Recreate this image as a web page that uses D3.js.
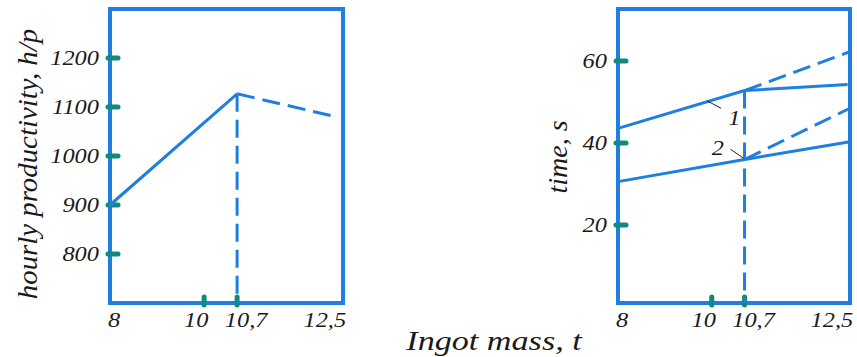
<!DOCTYPE html>
<meta charset="utf-8">
<style>
body { margin: 0; background: #fff; }
text { font-family: "Liberation Serif", "Times New Roman", serif; font-style: italic; fill: #1a1a1a; }
.frame { fill: none; stroke: #1e7fe0; stroke-width: 4px; }
.curve { fill: none; stroke: #1e7fe0; stroke-width: 3px; }
.dash { stroke-dasharray: 18, 8; }
.tick-mark { stroke: #0f8a7c; stroke-width: 5px; stroke-linecap: round; }
.leader { stroke: #222; stroke-width: 1px; }
</style>
<svg width="857" height="357"></svg>
<script src="https://d3js.org/d3.v7.min.js"></script>
<script>

var massLabels = [8, 10, 10.7, 12.5],
    massTicks = [10, 10.7],
    peakMass = 10.7;

var prodTicks = [800, 900, 1000, 1100, 1200],
    prodSolid = [[8, 900], [10.7, 1127]],
    prodDashed = [[10.7, 1127], [12.8, 1080]];

var timeTicks = [20, 40, 60],
    time1Solid = [[8, 43.6], [10.7, 52.8], [12.9, 54.3]],
    time1Dashed = [[10.7, 52.8], [12.95, 62.3]],
    time2Solid = [[8, 30.6], [10.7, 36.0], [12.95, 40.3]],
    time2Dashed = [[10.7, 36.0], [12.95, 48.5]];

var svg = d3.select("svg");
var comma = function(d) { return String(d).replace(".", ","); };
// the scanned lettering is a bit wide, so stretch text horizontally
var wide = function(x, y) { return "translate(" + x + "," + y + ") scale(1.22,1)"; };
var labelShift = {8: 4, 10: -8, 10.7: 9, 12.5: 3};

function panel(left, right, yDomain, ticks, yTitle, yTitleX, yTitleY, yTitleStretch) {
  var x = d3.scaleLinear().domain([8, 12.95]).range([left, right]),
      y = d3.scaleLinear().domain(yDomain).range([303, 9]),
      g = svg.append("g");

  var line = d3.line().x(function(d) { return x(d[0]); }).y(function(d) { return y(d[1]); });

  g.append("rect").attr("class", "frame")
    .attr("x", left).attr("y", 9).attr("width", right - left).attr("height", 294);

  g.selectAll(".ytick").data(ticks).enter().append("line")
    .attr("class", "tick-mark")
    .attr("x1", left - 2).attr("x2", left + 8)
    .attr("y1", y).attr("y2", y);

  g.selectAll(".ylab").data(ticks).enter().append("text")
    .attr("transform", function(d) { return wide(left - 11, y(d) + 7); })
    .attr("text-anchor", "end").style("font-size", "20px")
    .text(function(d) { return d; });

  g.selectAll(".xtick").data(massTicks).enter().append("line")
    .attr("class", "tick-mark")
    .attr("x1", x).attr("x2", x)
    .attr("y1", 297).attr("y2", 305);

  g.selectAll(".xlab").data(massLabels).enter().append("text")
    .attr("transform", function(d) { return wide(x(d) + labelShift[d], 327); })
    .attr("text-anchor", "middle").style("font-size", "20px")
    .text(comma);

  g.append("text")
    .attr("transform", "translate(" + yTitleX + "," + yTitleY + ") rotate(-90) scale(" + yTitleStretch + ",1)")
    .attr("text-anchor", "middle").style("font-size", "28px")
    .text(yTitle);

  return {x: x, y: y, g: g, line: line};
}

var p1 = panel(110, 343, [700, 1300], prodTicks, "hourly productivity, h/p", 37, 164, 1.03);
p1.g.append("path").attr("class", "curve").attr("d", p1.line(prodSolid));
p1.g.append("path").attr("class", "curve dash").attr("d", p1.line(prodDashed));
p1.g.append("path").attr("class", "curve dash")
  .attr("d", p1.line([[peakMass, prodSolid[1][1]], [peakMass, 700]]));

var p2 = panel(618, 850, [1, 72.7], timeTicks, "time, s", 567, 157, 1.0);
[time1Solid, time2Solid].forEach(function(s) {
  p2.g.append("path").attr("class", "curve").attr("d", p2.line(s));
});
[time1Dashed, time2Dashed].forEach(function(s) {
  p2.g.append("path").attr("class", "curve dash").attr("d", p2.line(s));
});
p2.g.append("path").attr("class", "curve dash")
  .attr("d", p2.line([[peakMass, time1Solid[1][1]], [peakMass, 1]]));

// curve numbers with leader lines
p2.g.append("line").attr("class", "leader")
  .attr("x1", p2.x(9.9)).attr("y1", p2.y(50.3)).attr("x2", p2.x(10.2)).attr("y2", p2.y(48.5));
p2.g.append("text").attr("transform", wide(p2.x(10.35), p2.y(44.5))).style("font-size", "20px").text("1");
p2.g.append("line").attr("class", "leader")
  .attr("x1", p2.x(10.4)).attr("y1", p2.y(38.5)).attr("x2", p2.x(10.68)).attr("y2", p2.y(36.3));
p2.g.append("text").attr("transform", wide(p2.x(10.0), p2.y(37.2))).style("font-size", "20px").text("2");

svg.append("text")
  .attr("transform", wide(494, 350))
  .attr("text-anchor", "middle").style("font-size", "28px")
  .text("Ingot mass, t");

</script>
